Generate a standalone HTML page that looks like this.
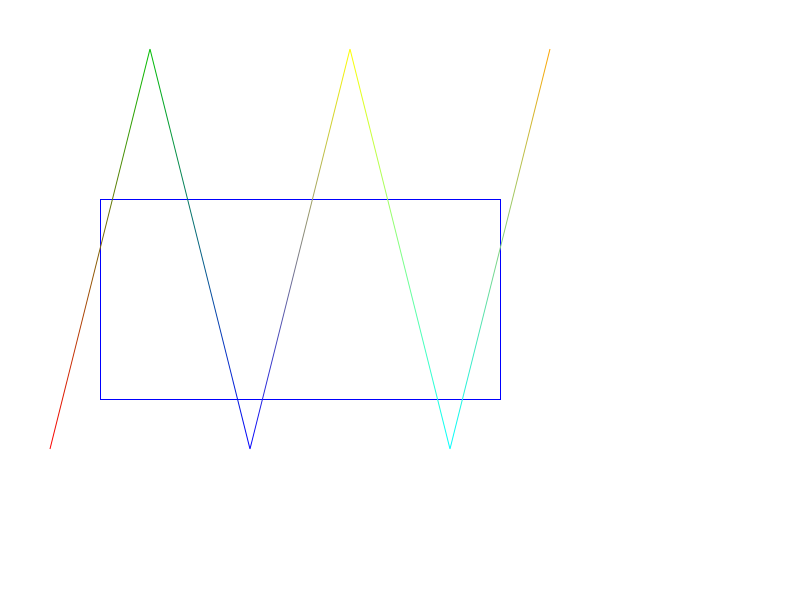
<!DOCTYPE html>
<html><head><meta charset="utf-8"><style>html,body{margin:0;padding:0;background:#fff}svg{display:block}</style></head>
<body>
<svg id="chart" width="800" height="600" xmlns="http://www.w3.org/2000/svg">
<defs id="defs"></defs>
<rect x="100.5" y="199.5" width="400" height="200" fill="none" stroke="#0000ff" stroke-width="1"/>
<g id="lines"></g>
</svg>
<script>
const xValues = [0, 1, 2, 3, 4, 5];
const yValues = [0, 1, 0, 1, 0, 1];
const colors = ["#ff0000", "#00c000", "#0000ff", "#ffff00", "#00ffff", "#ffa500"];
function sx(v){ return 50 + v * 100; }
function sy(v){ return 449 - v * 400; }
const ns = "http://www.w3.org/2000/svg";
const defs = document.getElementById('defs');
const g = document.getElementById('lines');
for (let i = 0; i < xValues.length - 1; i++) {
  const x1 = sx(xValues[i]), y1 = sy(yValues[i]), x2 = sx(xValues[i+1]), y2 = sy(yValues[i+1]);
  const grad = document.createElementNS(ns, 'linearGradient');
  grad.setAttribute('id', 'g' + i);
  grad.setAttribute('gradientUnits', 'userSpaceOnUse');
  grad.setAttribute('x1', x1); grad.setAttribute('y1', y1);
  grad.setAttribute('x2', x2); grad.setAttribute('y2', y2);
  [[0, colors[i]], [1, colors[i+1]]].forEach(([o, c]) => {
    const s = document.createElementNS(ns, 'stop');
    s.setAttribute('offset', o); s.setAttribute('stop-color', c);
    grad.appendChild(s);
  });
  defs.appendChild(grad);
  const l = document.createElementNS(ns, 'line');
  l.setAttribute('x1', x1); l.setAttribute('y1', y1);
  l.setAttribute('x2', x2); l.setAttribute('y2', y2);
  l.setAttribute('stroke', 'url(#g' + i + ')');
  l.setAttribute('stroke-width', '1');
  
  
  g.appendChild(l);
}
</script>
</body></html>
